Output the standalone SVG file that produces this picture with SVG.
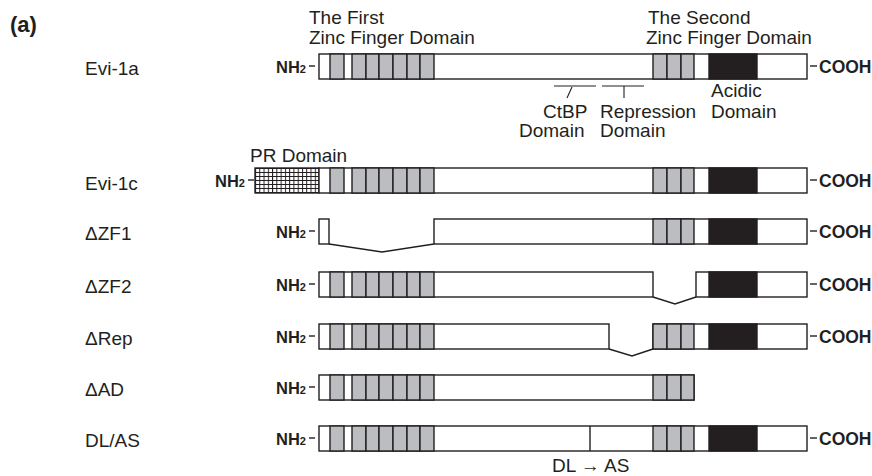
<svg xmlns="http://www.w3.org/2000/svg" width="872" height="476" viewBox="0 0 872 476">
<style>
text{font-family:"Liberation Sans",Arial,Helvetica,sans-serif;fill:#231f20}
.lbl{font-size:19px}
.ttl{font-size:22px;font-weight:bold}
.nh{font-size:16.5px;font-weight:bold}
.sub{font-size:11px}
.co{font-size:17.5px;font-weight:bold}
.bar{fill:#fff;stroke:#231f20;stroke-width:1.4}
.zf{fill:#bcbdc0;stroke:#231f20;stroke-width:1.4}
.ad{fill:#231f20;stroke:#231f20;stroke-width:1.4}
.ln{fill:none;stroke:#231f20;stroke-width:1.4}
.thin{fill:none;stroke:#231f20;stroke-width:1.1}
.pr{fill:url(#grid);stroke:#231f20;stroke-width:1.4}
</style>
<defs>
<pattern id="grid" x="255" y="168" width="4.27" height="4" patternUnits="userSpaceOnUse">
<rect width="4.27" height="4" fill="#fff"/>
<path d="M0 0.5H4.27M0.5 0V4" stroke="#231f20" stroke-width="1"/>
</pattern>
<g id="zf1">
<rect class="zf" x="330" y="0" width="14" height="25"/>
<rect class="zf" x="352" y="0" width="14" height="25"/>
<rect class="zf" x="366" y="0" width="13" height="25"/>
<rect class="zf" x="379" y="0" width="14" height="25"/>
<rect class="zf" x="393" y="0" width="14" height="25"/>
<rect class="zf" x="407" y="0" width="13" height="25"/>
<rect class="zf" x="420" y="0" width="14" height="25"/>
</g>
<g id="zf2">
<rect class="zf" x="653" y="0" width="14" height="25"/>
<rect class="zf" x="667" y="0" width="14" height="25"/>
<rect class="zf" x="681" y="0" width="13" height="25"/>
</g>
<rect id="acid" class="ad" x="709" y="0" width="48" height="25"/>
</defs>

<text class="ttl" x="10" y="32">(a)</text>

<g id="domain-labels">
<text class="lbl" x="309" y="24">The First</text>
<text class="lbl" x="309" y="44">Zinc Finger Domain</text>
<text class="lbl" x="648" y="24">The Second</text>
<text class="lbl" x="646" y="44">Zinc Finger Domain</text>
<text class="lbl" x="711" y="97">Acidic</text>
<text class="lbl" x="711" y="118">Domain</text>
<text class="lbl" x="543" y="118">CtBP</text>
<text class="lbl" x="519" y="137">Domain</text>
<text class="lbl" x="600" y="118">Repression</text>
<text class="lbl" x="600" y="137">Domain</text>
<text class="lbl" x="250" y="162">PR Domain</text>
</g>

<g id="evi1a">
<text class="lbl" x="85" y="75">Evi-1a</text>
<text class="nh" x="276" y="73">NH<tspan class="sub">2</tspan></text>
<line class="ln" x1="309" y1="66" x2="315" y2="66"/>
<rect class="bar" x="319" y="54" width="488" height="25"/>
<use href="#zf1" y="54"/><use href="#zf2" y="54"/><use href="#acid" y="54"/>
<line class="ln" x1="810" y1="66" x2="817" y2="66"/>
<text class="co" x="819" y="73">COOH</text>
</g>

<g id="evi1c">
<text class="lbl" x="85" y="190">Evi-1c</text>
<text class="nh" x="215" y="187">NH<tspan class="sub">2</tspan></text>
<line class="ln" x1="248" y1="180" x2="254" y2="180"/>
<rect class="pr" x="255" y="168" width="64" height="25"/>
<rect class="bar" x="319" y="168" width="488" height="25"/>
<use href="#zf1" y="168"/><use href="#zf2" y="168"/><use href="#acid" y="168"/>
<line class="ln" x1="810" y1="180" x2="817" y2="180"/>
<text class="co" x="819" y="187">COOH</text>
</g>

<g id="dzf1">
<text class="lbl" x="85" y="240">ΔZF1</text>
<text class="nh" x="276" y="238">NH<tspan class="sub">2</tspan></text>
<line class="ln" x1="309" y1="231" x2="315" y2="231"/>
<rect class="bar" x="319" y="219" width="10" height="25"/>
<rect class="bar" x="434" y="219" width="373" height="25"/>
<use href="#zf2" y="219"/><use href="#acid" y="219"/>
<line class="ln" x1="810" y1="231" x2="817" y2="231"/>
<text class="co" x="819" y="238">COOH</text>
</g>

<g id="dzf2">
<text class="lbl" x="85" y="293">ΔZF2</text>
<text class="nh" x="276" y="291">NH<tspan class="sub">2</tspan></text>
<line class="ln" x1="309" y1="284" x2="315" y2="284"/>
<rect class="bar" x="319" y="272" width="334" height="25"/>
<use href="#zf1" y="272"/>
<rect class="bar" x="696" y="272" width="111" height="25"/>
<use href="#acid" y="272"/>
<line class="ln" x1="810" y1="284" x2="817" y2="284"/>
<text class="co" x="819" y="291">COOH</text>
</g>

<g id="drep">
<text class="lbl" x="85" y="345">ΔRep</text>
<text class="nh" x="276" y="343">NH<tspan class="sub">2</tspan></text>
<line class="ln" x1="309" y1="336" x2="315" y2="336"/>
<rect class="bar" x="319" y="324" width="290" height="25"/>
<use href="#zf1" y="324"/>
<rect class="bar" x="653" y="324" width="154" height="25"/>
<use href="#zf2" y="324"/><use href="#acid" y="324"/>
<line class="ln" x1="810" y1="336" x2="817" y2="336"/>
<text class="co" x="819" y="343">COOH</text>
</g>

<g id="dad">
<text class="lbl" x="85" y="396">ΔAD</text>
<text class="nh" x="276" y="394">NH<tspan class="sub">2</tspan></text>
<line class="ln" x1="309" y1="387" x2="315" y2="387"/>
<rect class="bar" x="319" y="375" width="375" height="25"/>
<use href="#zf1" y="375"/><use href="#zf2" y="375"/>
</g>

<g id="dlas">
<text class="lbl" x="85" y="447">DL/AS</text>
<text class="nh" x="276" y="445">NH<tspan class="sub">2</tspan></text>
<line class="ln" x1="309" y1="438" x2="315" y2="438"/>
<rect class="bar" x="319" y="426" width="488" height="25"/>
<use href="#zf1" y="426"/><use href="#zf2" y="426"/><use href="#acid" y="426"/>
<line class="ln" x1="590" y1="426" x2="590" y2="451"/>
<line class="ln" x1="810" y1="438" x2="817" y2="438"/>
<text class="co" x="819" y="445">COOH</text>
<text class="lbl" x="552" y="472">DL → AS</text>
</g>

<g id="connectors">
<polyline class="ln" points="329,244 382,252 434,244"/>
<polyline class="ln" points="653,297 675,304 696,297"/>
<polyline class="ln" points="609,349 632,356 653,349"/>
<line class="thin" x1="554" y1="86" x2="596" y2="86"/>
<line class="thin" x1="572" y1="87" x2="567" y2="98"/>
<line class="thin" x1="602" y1="86" x2="644" y2="86"/>
<line class="thin" x1="624" y1="86" x2="624" y2="98"/>
</g>
</svg>
